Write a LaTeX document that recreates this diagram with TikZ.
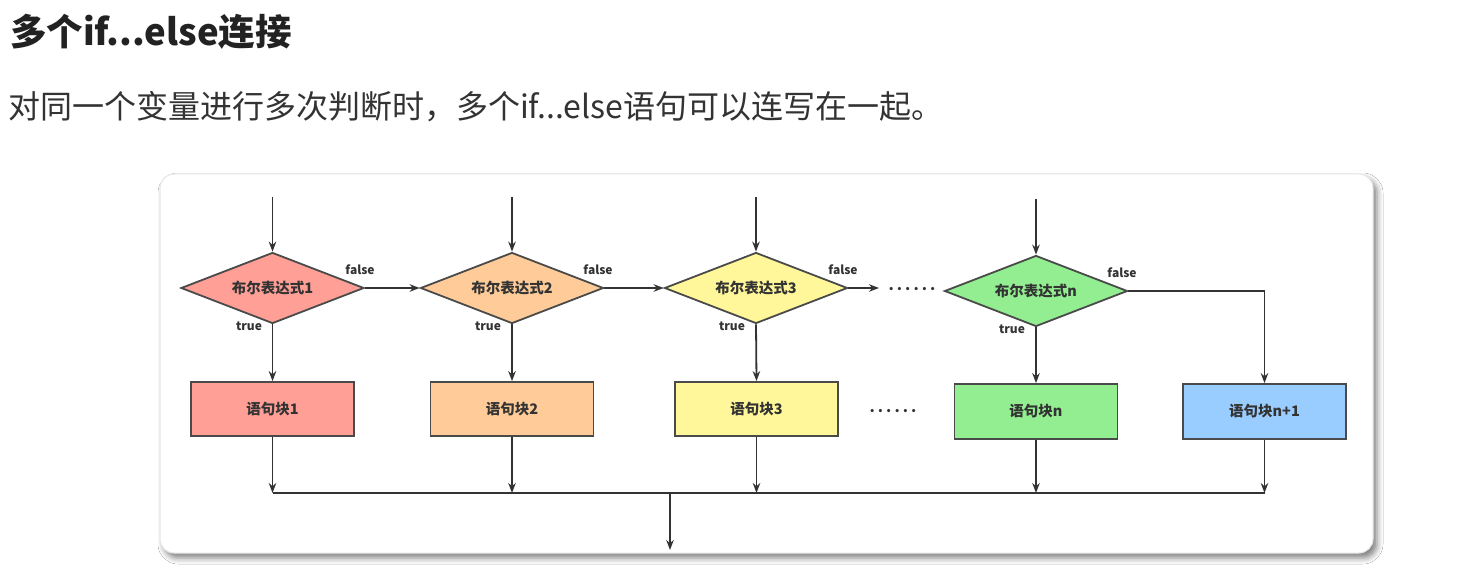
\documentclass[tikz,border=0pt]{standalone}
\usepackage{fontspec}
\setmainfont{Noto Sans CJK SC}
\usetikzlibrary{shapes.geometric,arrows.meta,shadows.blur}
\definecolor{c1}{HTML}{FF9F96}
\definecolor{c2}{HTML}{FFCC99}
\definecolor{c3}{HTML}{FFF799}
\definecolor{c4}{HTML}{92EE90}
\definecolor{c5}{HTML}{99CCFF}
\definecolor{bordc}{HTML}{4A4A4A}
\definecolor{linec}{HTML}{333333}
\definecolor{txt}{HTML}{333333}
\definecolor{titc}{HTML}{222222}
\begin{document}
\begin{tikzpicture}[x=1pt,y=-1pt,
  dia/.style={diamond, draw=bordc, line width=1.8pt, minimum width=183pt, minimum height=71pt, inner sep=0pt, aspect=2.58, font=\bfseries\fontsize{14.5}{16}\selectfont, text=txt},
  blk/.style={rectangle, draw=bordc, line width=1.8pt, minimum width=163pt, minimum height=54pt, inner sep=0pt, font=\bfseries\fontsize{14.5}{16}\selectfont, text=txt},
  lab/.style={font=\bfseries\fontsize{12}{14}\selectfont, text=txt, inner sep=0pt},
  dots/.style={font=\bfseries\fontsize{15}{16}\selectfont, text=txt, inner sep=0pt},
  arr/.style={draw=linec, line width=1.8pt, -{Stealth[length=10pt,width=7.5pt]}},
  ln/.style={draw=linec, line width=1.8pt}
]
\useasboundingbox[fill=white] (0,0) rectangle (1481,583);
% panel
\path[fill=white, draw=black!10, line width=1pt, rounded corners=14pt,
  blur shadow={shadow xshift=4pt, shadow yshift=-5pt, shadow blur radius=6pt, shadow opacity=50}]
  (160,174) rectangle (1373,553);
% texts
\node[anchor=base west, inner sep=0pt, font=\bfseries\fontsize{36.5}{40}\selectfont, text=titc] (title) at (10,46) {多个if...else连接};
\node[anchor=base west, inner sep=0pt, font=\fontsize{32}{36}\selectfont, text=txt] (sub) at (8,119) {对同一个变量进行多次判断时，多个if...else语句可以连写在一起。};
% diamonds
\node[dia, fill=c1] (d1) at (272.5,288) {布尔表达式1};
\node[dia, fill=c2] (d2) at (512,288) {布尔表达式2};
\node[dia, fill=c3] (d3) at (756,288) {布尔表达式3};
\node[dia, fill=c4] (dn) at (1036,291) {布尔表达式n};
% blocks
\node[blk, fill=c1] (b1) at (272.5,409) {语句块1};
\node[blk, fill=c2] (b2) at (512,409) {语句块2};
\node[blk, fill=c3] (b3) at (756.5,409) {语句块3};
\node[blk, fill=c4, minimum height=55pt] (bn) at (1036,411.5) {语句块n};
\node[blk, fill=c5, minimum height=55pt] (bn1) at (1264.5,411.5) {语句块n+1};
% dots
\node[dots] (dt1) at (912,289) {.\hspace{3pt}.\hspace{3pt}.\hspace{3pt}.\hspace{3pt}.\hspace{3pt}.};
\node[dots] (dt2) at (893,411) {.\hspace{3pt}.\hspace{3pt}.\hspace{3pt}.\hspace{3pt}.\hspace{3pt}.};
% labels
\node[lab] (f1) at (360,270) {false};
\node[lab] (f2) at (598,270) {false};
\node[lab] (f3) at (843,270) {false};
\node[lab] (fn) at (1122,273) {false};
\node[lab] (t1) at (249,326) {true};
\node[lab] (t2) at (488,326) {true};
\node[lab] (t3) at (732,326) {true};
\node[lab] (tn) at (1012,329) {true};
% coordinates
\coordinate (i1) at (272.5,197);
\coordinate (i2) at (512,197);
\coordinate (i3) at (756,197);
\coordinate (in) at (1036,199);
\coordinate (d3e) at (879,288);
\coordinate (m1) at (272.5,493);
\coordinate (mn1) at (1264.5,493);
\coordinate (mo) at (670,493);
\coordinate (out) at (670,550);
% connectors
\draw[arr] (i1) -- (d1.north);
\draw[arr] (i2) -- (d2.north);
\draw[arr] (i3) -- (d3.north);
\draw[arr] (in) -- (dn.north);
\draw[arr] (d1.east) -- (d2.west);
\draw[arr] (d2.east) -- (d3.west);
\draw[arr] (d3.east) -- (d3e);
\draw[arr] (dn.east) -| (bn1.north);
\draw[arr] (d1.south) -- (b1.north);
\draw[arr] (d2.south) -- (b2.north);
\draw[arr] (d3.south) -- (b3.north);
\draw[arr] (dn.south) -- (bn.north);
\draw[ln] (m1) -- (mn1);
\draw[arr] (b1.south) -- (b1.south |- m1);
\draw[arr] (b2.south) -- (b2.south |- m1);
\draw[arr] (b3.south) -- (b3.south |- m1);
\draw[arr] (bn.south) -- (bn.south |- m1);
\draw[arr] (bn1.south) -- (bn1.south |- m1);
\draw[arr] (mo) -- (out);
\end{tikzpicture}
\end{document}
